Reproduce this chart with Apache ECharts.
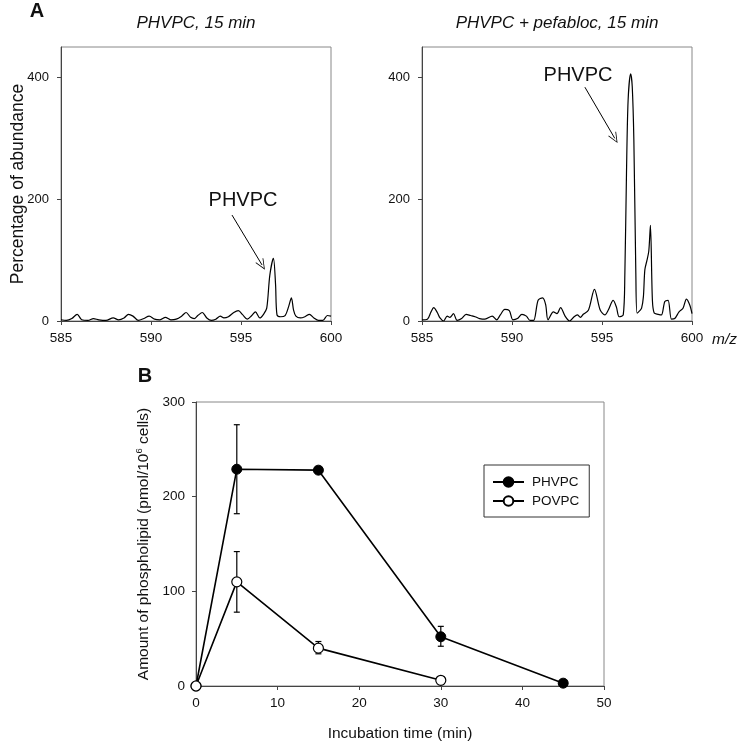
<!DOCTYPE html>
<html>
<head>
<meta charset="utf-8">
<script src="https://cdn.jsdelivr.net/npm/echarts@6/dist/echarts.min.js"></script>
<style>
  html, body { margin: 0; padding: 0; background: #fff; }
  #chart { width: 740px; height: 743px; }
</style>
</head>
<body>
<div id="chart"></div>
<script>
// ---- panel A, left: PHVPC 15 min (m/z vs % abundance) ----
const leftMz = [585.0, 585.3, 585.6, 585.9, 586.15, 586.5, 586.8, 587.1, 587.5, 587.9, 588.2, 588.5, 588.75, 589.0, 589.3, 589.6, 589.9, 590.2, 590.5, 590.8, 591.1, 591.4, 591.7, 591.95, 592.2, 592.4, 592.6, 592.85, 593.1, 593.35, 593.6, 593.85, 594.05, 594.3, 594.6, 594.85, 595.1, 595.35, 595.6, 595.8, 596.05, 596.25, 596.43, 596.6, 596.8, 596.92, 597.0, 597.2, 597.45, 597.65, 597.8, 597.92, 598.05, 598.3, 598.55, 598.8, 599.05, 599.3, 599.55, 599.8, 600.0];
const leftAbund = [2, 1, 4, 11, 2, 1, 4, 2, 1, 5, 2, 5, 11, 8, 1, 4, 8, 3, 2, 6, 2, 3, 8, 14, 6, 4, 9, 14, 5, 1, 3, 8, 5, 7, 14, 17, 10, 3, 9, 15, 5, 11, 21, 75, 103, 60, 10, 7, 9, 24, 38, 18, 8, 5, 7, 11, 5, 1, 1, 9, 8];

// ---- panel A, right: PHVPC + pefabloc 15 min ----
const rightMz = [585.0, 585.3, 585.5, 585.65, 585.85, 586.0, 586.2, 586.4, 586.55, 586.75, 586.95, 587.2, 587.45, 587.7, 587.95, 588.2, 588.5, 588.9, 589.15, 589.35, 589.6, 589.85, 590.05, 590.3, 590.55, 590.8, 591.0, 591.2, 591.45, 591.7, 591.87, 592.0, 592.3, 592.5, 592.7, 592.95, 593.2, 593.45, 593.63, 593.8, 593.96, 594.25, 594.58, 594.9, 595.16, 595.35, 595.62, 595.8, 595.95, 596.18, 596.27, 596.36, 596.45, 596.59, 596.68, 596.77, 596.88, 596.95, 597.1, 597.2, 597.3, 597.38, 597.5, 597.6, 597.69, 597.8, 597.9, 598.12, 598.3, 598.49, 598.67, 598.86, 599.04, 599.28, 599.5, 599.69, 599.88, 600.0];
const rightAbund = [2, 3, 15, 22, 14, 5, 0, 8, 6, 12, 1, 4, 11, 9, 7, 4, 3, 8, 2, 10, 19, 17, 2, 4, 11, 8, 1, 1, 34, 38, 27, 2, 15, 12, 22, 8, 0, 7, 10, 6, 11, 18, 52, 18, 10, 18, 34, 23, 7, 10, 78, 242, 362, 406, 385, 297, 78, 13, 17, 21, 40, 84, 100, 115, 157, 34, 13, 11, 10, 32, 34, 3, 4, 15, 21, 36, 26, 12];

// arrows: [from, to] in data coords (m/z, abundance)
const leftArrow = [[594.5, 174], [596.17, 92]];
const rightArrow = [[594.05, 384], [595.71, 300]];

// ---- panel B: time course ----
const phvpcTime = [0, 5, 15, 30, 45];
const phvpcAmount = [0, 229, 228, 52, 3];
const povpcTime = [0, 5, 15, 30];
const povpcAmount = [0, 110, 40, 6];
// [time, low, high]
const phvpcErr = [[5, 182, 276], [15, 225, 231], [30, 42, 63]];
const povpcErr = [[5, 78, 142], [15, 34, 47]];

const abundTicks = [0, 200, 400];

const FONT = 'Liberation Sans, Arial, sans-serif';
const zip = (a, b) => a.map((v, i) => [v, b[i]]);

// open "V" arrow head
const arrowHead = 'path://M0,0 L6,12 L5.1,12.5 L0,2.2 L-5.1,12.5 L-6,12 Z';

function errorBars(params, api) {
  const x = api.value(0);
  const lo = api.coord([x, api.value(1)]);
  const hi = api.coord([x, api.value(2)]);
  const cap = 3;
  const style = { stroke: '#000', lineWidth: 1.2 };
  return {
    type: 'group',
    children: [
      { type: 'line', shape: { x1: lo[0], y1: lo[1], x2: hi[0], y2: hi[1] }, style },
      { type: 'line', shape: { x1: lo[0] - cap, y1: lo[1], x2: lo[0] + cap, y2: lo[1] }, style },
      { type: 'line', shape: { x1: hi[0] - cap, y1: hi[1], x2: hi[0] + cap, y2: hi[1] }, style }
    ]
  };
}

function arrowLine(pts) {
  return {
    silent: true,
    symbol: ['none', arrowHead],
    symbolSize: [9, 11],
    label: { show: false },
    lineStyle: { color: '#000', width: 1, type: 'solid' },
    data: [[{ coord: pts[0] }, { coord: pts[1] }]]
  };
}

const axisLineStyle = { lineStyle: { color: '#444', width: 1 } };
const tickStyle = { show: true, inside: false, length: 4, lineStyle: { color: '#444' } };

function mzAxis(idx) {
  return {
    type: 'value', gridIndex: idx, min: 585, max: 600, interval: 5,
    axisLine: axisLineStyle, axisTick: tickStyle, splitLine: { show: false },
    axisLabel: { fontFamily: FONT, fontSize: 13.5, color: '#111', margin: 10 }
  };
}
function abundAxis(idx, name) {
  return {
    type: 'value', gridIndex: idx, min: 0, max: 450,
    name: name, nameLocation: 'middle', nameGap: 34, nameMoveOverlap: false,
    nameTextStyle: { fontFamily: FONT, fontSize: 17.5, color: '#111' },
    axisLine: { show: true, lineStyle: { color: '#444', width: 1 } },
    axisTick: Object.assign({ customValues: abundTicks }, tickStyle),
    splitLine: { show: false },
    axisLabel: { customValues: abundTicks, fontFamily: FONT, fontSize: 13, color: '#111', margin: 12 }
  };
}

const chart = echarts.init(document.getElementById('chart'));
chart.setOption({
  animation: false,
  backgroundColor: '#fff',
  textStyle: { fontFamily: FONT },
  grid: [
    { left: 61, top: 47, width: 270, height: 274, show: true, borderColor: '#888', borderWidth: 1 },
    { left: 422, top: 47, width: 270, height: 274, show: true, borderColor: '#888', borderWidth: 1 },
    { left: 196, top: 402, width: 408, height: 285, show: true, borderColor: '#888', borderWidth: 1 }
  ],
  xAxis: [
    mzAxis(0),
    mzAxis(1),
    {
      type: 'value', gridIndex: 2, min: 0, max: 50, interval: 10,
      name: 'Incubation time (min)', nameLocation: 'middle', nameGap: 40,
      nameTextStyle: { fontFamily: FONT, fontSize: 15.5, color: '#111' },
      axisLine: axisLineStyle, axisTick: tickStyle, splitLine: { show: false },
      axisLabel: { fontFamily: FONT, fontSize: 13.5, color: '#111', margin: 10 }
    }
  ],
  yAxis: [
    abundAxis(0, 'Percentage of abundance'),
    abundAxis(1, ''),
    {
      type: 'value', gridIndex: 2, min: 0, max: 300, interval: 100,
      name: '{n|Amount of phospholipid (pmol/10}{sup|6}{n| cells)}',
      nameLocation: 'middle', nameGap: 38,
      nameTextStyle: {
        rich: {
          n: { fontFamily: FONT, fontSize: 15.5, color: '#111', lineHeight: 18 },
          sup: { fontFamily: FONT, fontSize: 9.5, color: '#111', lineHeight: 18, verticalAlign: 'top' }
        }
      },
      axisLine: { show: true, lineStyle: { color: '#444', width: 1 } },
      axisTick: tickStyle, splitLine: { show: false },
      axisLabel: { fontFamily: FONT, fontSize: 13.5, color: '#111', margin: 11 }
    }
  ],
  legend: {
    data: ['PHVPC', 'POVPC'],
    orient: 'vertical', left: 484, top: 465,
    borderColor: '#333', borderWidth: 1, borderRadius: 0,
    padding: [10, 10, 9, 8],
    itemWidth: 31, itemHeight: 12, itemGap: 5,
    textStyle: { fontFamily: FONT, fontSize: 13.5, color: '#111', padding: [0, 0, 0, 3] }
  },
  series: [
    {
      type: 'line', xAxisIndex: 0, yAxisIndex: 0, data: zip(leftMz, leftAbund),
      showSymbol: false, smooth: 0.3, lineStyle: { color: '#000', width: 1.2 },
      markLine: arrowLine(leftArrow)
    },
    {
      type: 'line', xAxisIndex: 1, yAxisIndex: 1, data: zip(rightMz, rightAbund),
      showSymbol: false, smooth: 0.3, lineStyle: { color: '#000', width: 1.2 },
      markLine: arrowLine(rightArrow)
    },
    {
      type: 'custom', xAxisIndex: 2, yAxisIndex: 2, renderItem: errorBars,
      encode: { x: 0, y: [1, 2] }, data: phvpcErr, z: 1, silent: true
    },
    {
      type: 'custom', xAxisIndex: 2, yAxisIndex: 2, renderItem: errorBars,
      encode: { x: 0, y: [1, 2] }, data: povpcErr, z: 1, silent: true
    },
    {
      name: 'PHVPC', type: 'line', xAxisIndex: 2, yAxisIndex: 2,
      data: zip(phvpcTime, phvpcAmount), z: 3,
      symbol: 'circle', symbolSize: 10,
      lineStyle: { color: '#000', width: 1.6 },
      itemStyle: { color: '#000', borderColor: '#000', borderWidth: 1 }
    },
    {
      name: 'POVPC', type: 'line', xAxisIndex: 2, yAxisIndex: 2,
      data: zip(povpcTime, povpcAmount), z: 3,
      symbol: 'circle', symbolSize: 10,
      lineStyle: { color: '#000', width: 1.6 },
      itemStyle: { color: '#fff', borderColor: '#000', borderWidth: 1.2 }
    }
  ],
  graphic: [
    { type: 'text', style: { x: 37, y: 11, text: 'A', font: 'bold 20px ' + FONT, fill: '#111', align: 'center', verticalAlign: 'middle' } },
    { type: 'text', style: { x: 145, y: 376, text: 'B', font: 'bold 20px ' + FONT, fill: '#111', align: 'center', verticalAlign: 'middle' } },
    { type: 'text', style: { x: 196, y: 23, text: 'PHVPC, 15 min', font: 'italic 17px ' + FONT, fill: '#111', align: 'center', verticalAlign: 'middle' } },
    { type: 'text', style: { x: 557, y: 23, text: 'PHVPC + pefabloc, 15 min', font: 'italic 17px ' + FONT, fill: '#111', align: 'center', verticalAlign: 'middle' } },
    { type: 'text', style: { x: 243, y: 200, text: 'PHVPC', font: '20px ' + FONT, fill: '#111', align: 'center', verticalAlign: 'middle' } },
    { type: 'text', style: { x: 578, y: 75, text: 'PHVPC', font: '20px ' + FONT, fill: '#111', align: 'center', verticalAlign: 'middle' } },
    { type: 'text', style: { x: 712, y: 340, text: 'm/z', font: 'italic 15.5px ' + FONT, fill: '#111', align: 'left', verticalAlign: 'middle' } }
  ]
});
</script>
</body>
</html>
